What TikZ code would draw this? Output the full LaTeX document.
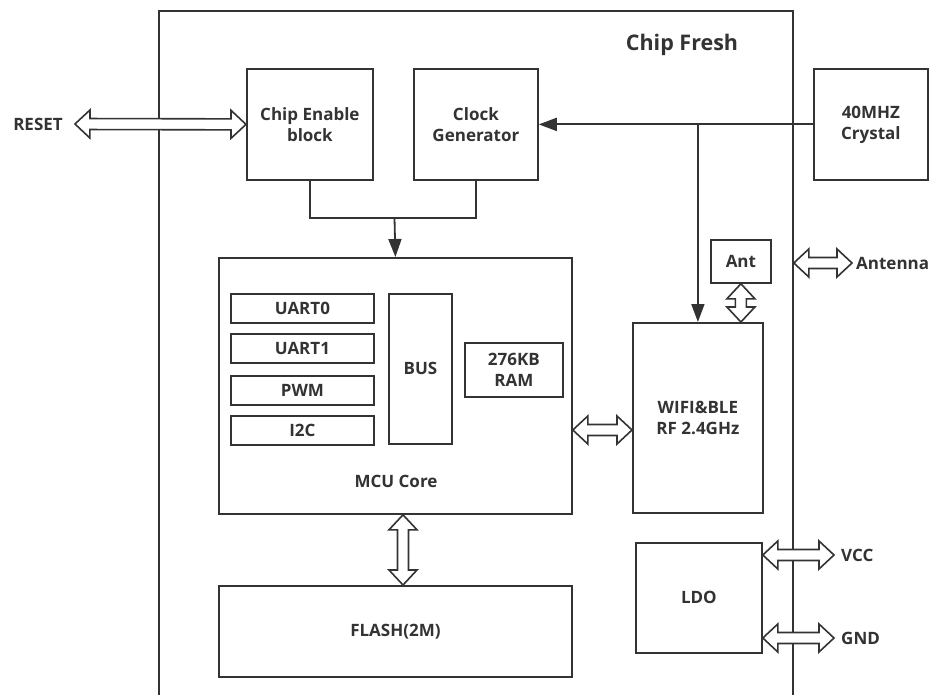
\documentclass[tikz,border=0pt]{standalone}
\usepackage{fontspec}
\setmainfont{Open Sans}
\usetikzlibrary{calc,arrows.meta}
\definecolor{linec}{HTML}{333333}
\definecolor{textc}{HTML}{333333}
\begin{document}
\begin{tikzpicture}[x=1pt,y=-1pt,
  every node/.style={text=textc,font=\fontsize{17}{21}\selectfont\bfseries},
  box/.style={draw=linec,line width=1.8pt,fill=white,inner sep=0pt,anchor=north west,align=center},
  lbl/.style={inner sep=0pt},
  arr/.style={draw=linec,line width=1.8pt,-{Triangle[length=18pt,width=13pt]}},
  plain/.style={draw=linec,line width=1.8pt},
  dblarrow/.style={draw=linec,line width=1.6pt,fill=white,line join=miter,
    to path={let \p1=(\tikztostart), \p2=(\tikztotarget),
      \n1={atan2(\y2-\y1,\x2-\x1)}, \n2={veclen(\x2-\x1,\y2-\y1)}, \n3={\n2-15pt} in
      ([shift={(\p1)},rotate=\n1]0pt,0pt)
      -- ([shift={(\p1)},rotate=\n1]15pt,14pt)
      -- ([shift={(\p1)},rotate=\n1]15pt,5.5pt)
      -- ([shift={(\p1)},rotate=\n1]\n3,5.5pt)
      -- ([shift={(\p1)},rotate=\n1]\n3,14pt)
      -- ([shift={(\p1)},rotate=\n1]\n2,0pt)
      -- ([shift={(\p1)},rotate=\n1]\n3,-14pt)
      -- ([shift={(\p1)},rotate=\n1]\n3,-5.5pt)
      -- ([shift={(\p1)},rotate=\n1]15pt,-5.5pt)
      -- ([shift={(\p1)},rotate=\n1]15pt,-14pt)
      -- cycle}}]
\useasboundingbox (0,0) rectangle (934,695);
\fill[white] (0,0) rectangle (934,695);

% chip outline (bottom edge falls outside the page)
\node[box,minimum width=634pt,minimum height=720pt] (chip) at (158,10) {};
\node[lbl,font=\fontsize{21.5}{24}\selectfont\bfseries] (title) at (682,45) {Chip Fresh};

% top blocks
\node[box,minimum width=126pt,minimum height=111pt] (ce) at (246,68) {Chip Enable\\block};
\node[box,minimum width=124pt,minimum height=111pt] (cg) at (413,68) {Clock\\Generator};
\node[box,minimum width=114pt,minimum height=111pt] (xtal) at (813,68) {40MHZ\\Crystal};

% MCU core
\node[box,minimum width=353pt,minimum height=256pt] (mcu) at (218,257) {};
\node[lbl] (mcul) at (396,481) {MCU Core};
\node[box,minimum width=143pt,minimum height=29pt] (uart0) at (230,293) {UART0};
\node[box,minimum width=143pt,minimum height=29pt] (uart1) at (230,333) {UART1};
\node[box,minimum width=143pt,minimum height=29pt] (pwm) at (230,375) {PWM};
\node[box,minimum width=143pt,minimum height=29pt] (i2c) at (230,415) {I2C};
\node[box,minimum width=63pt,minimum height=150pt] (bus) at (388,293) {BUS};
\node[box,minimum width=98pt,minimum height=54pt] (ram) at (464,342) {276KB\\RAM};

% flash
\node[box,minimum width=353pt,minimum height=91pt] (flash) at (218,585) {FLASH(2M)};

% wifi, ant, ldo
\node[box,minimum width=130pt,minimum height=190pt] (wifi) at (632,322) {WIFI\&BLE\\RF 2.4GHz};
\node[box,minimum width=60pt,minimum height=43pt] (ant) at (710,239) {Ant};
\node[box,minimum width=126pt,minimum height=110pt] (ldo) at (635,542) {LDO};

% external labels
\node[lbl,inner xsep=12pt] (reset) at (38,124) {RESET};
\node[lbl,inner xsep=4pt,anchor=west] (antenna) at (852,263) {Antenna};
\node[lbl,inner xsep=7pt,anchor=west] (vcc) at (834,555) {VCC};
\node[lbl,inner xsep=7pt,anchor=west] (gnd) at (834,638) {GND};

% clock distribution
\draw[arr] (xtal.west) -- (cg.east);
\draw[arr] (xtal.west -| wifi.north) -- (wifi.north);

% enable / clock merge into MCU
\coordinate (merge) at (394.5,218);
\draw[plain] (ce.south) |- (merge) -| (cg.south);
\draw[arr] (merge) -- (mcu.north);

% double arrows
\draw[dblarrow] (reset.east) to (ce.west);
\draw[dblarrow] (ant.south) to (ant.south |- wifi.north);
\draw[dblarrow] (chip.east |- antenna.west) to (antenna.west);
\draw[dblarrow] (mcu.east |- 0,430) to (wifi.west |- 0,430);
\draw[dblarrow] (mcu.south -| 403,0) to (flash.north -| 403,0);
\draw[dblarrow] (ldo.east |- vcc.west) to (vcc.west);
\draw[dblarrow] (ldo.east |- gnd.west) to (gnd.west);
\end{tikzpicture}
\end{document}
